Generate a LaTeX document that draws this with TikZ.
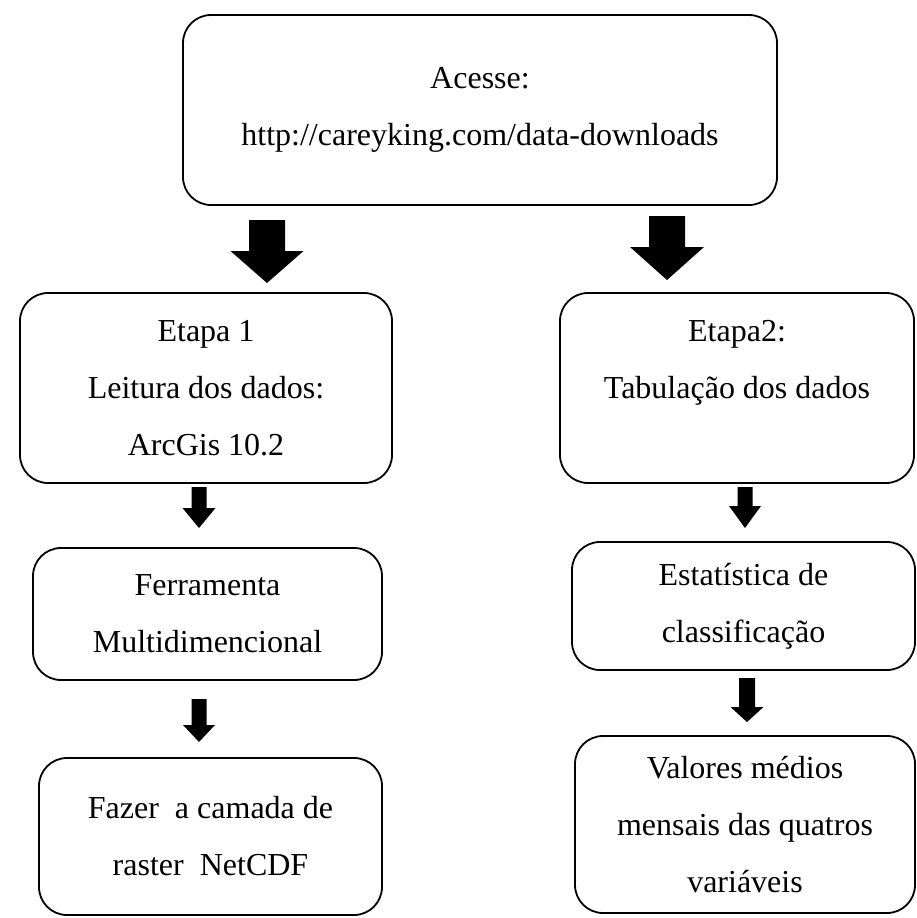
\documentclass[tikz,border=0pt]{standalone}
\usepackage{fontspec}
\setmainfont{Liberation Serif}
\newcommand\blockarr[6]{% x, ytop, ybase, ytip, half shaft, half head
  \fill[black] ({#1-#5},#2) -- ({#1+#5},#2) -- ({#1+#5},#3) -- ({#1+#6},#3) -- (#1,#4) -- ({#1-#6},#3) -- ({#1-#5},#3) -- cycle;}
\begin{document}
\begin{tikzpicture}[x=1pt,y=-1pt,
  box/.style={draw, line width=1.8pt, rounded corners=28pt, align=center,
    font=\fontsize{32}{57}\selectfont, inner sep=0pt}]
\useasboundingbox (0,0) rectangle (917,918);
\node[box, minimum width=594pt, minimum height=190pt] (acc) at (480,110)
  {Acesse:\\http://careyking.com/data-downloads};
\node[box, minimum width=372pt, minimum height=190pt] (e1) at (206,388)
  {Etapa 1\\Leitura dos dados:\\ArcGis 10.2};
\node[box, minimum width=354pt, minimum height=190pt] (e2) at (737,388)
  {Etapa2:\\Tabulação dos dados\\\mbox{}};
\node[box, minimum width=349pt, minimum height=132pt] (fer) at (207.5,614)
  {Ferramenta\\Multidimencional};
\node[box, minimum width=343pt, minimum height=157pt] (faz) at (210.5,836.5)
  {Fazer~ a camada de\\raster~ NetCDF};
\node[box, minimum width=343pt, minimum height=128pt] (est) at (743.5,606)
  {Estatística de\\classificação};
\node[box, minimum width=340pt, minimum height=177pt] (val) at (745,824.5)
  {Valores médios\\mensais das quatros\\variáveis};
% block arrows
\blockarr{267}{220}{251}{283}{18}{36.5}
\blockarr{667}{216}{247}{280}{18}{37}
\blockarr{199}{487}{508}{528}{7.5}{16.5}
\blockarr{745}{487}{506}{528}{7.5}{16}
\blockarr{199}{699}{725}{742}{7.5}{16}
\blockarr{747}{678}{707}{722}{8}{16.5}
\end{tikzpicture}
\end{document}
